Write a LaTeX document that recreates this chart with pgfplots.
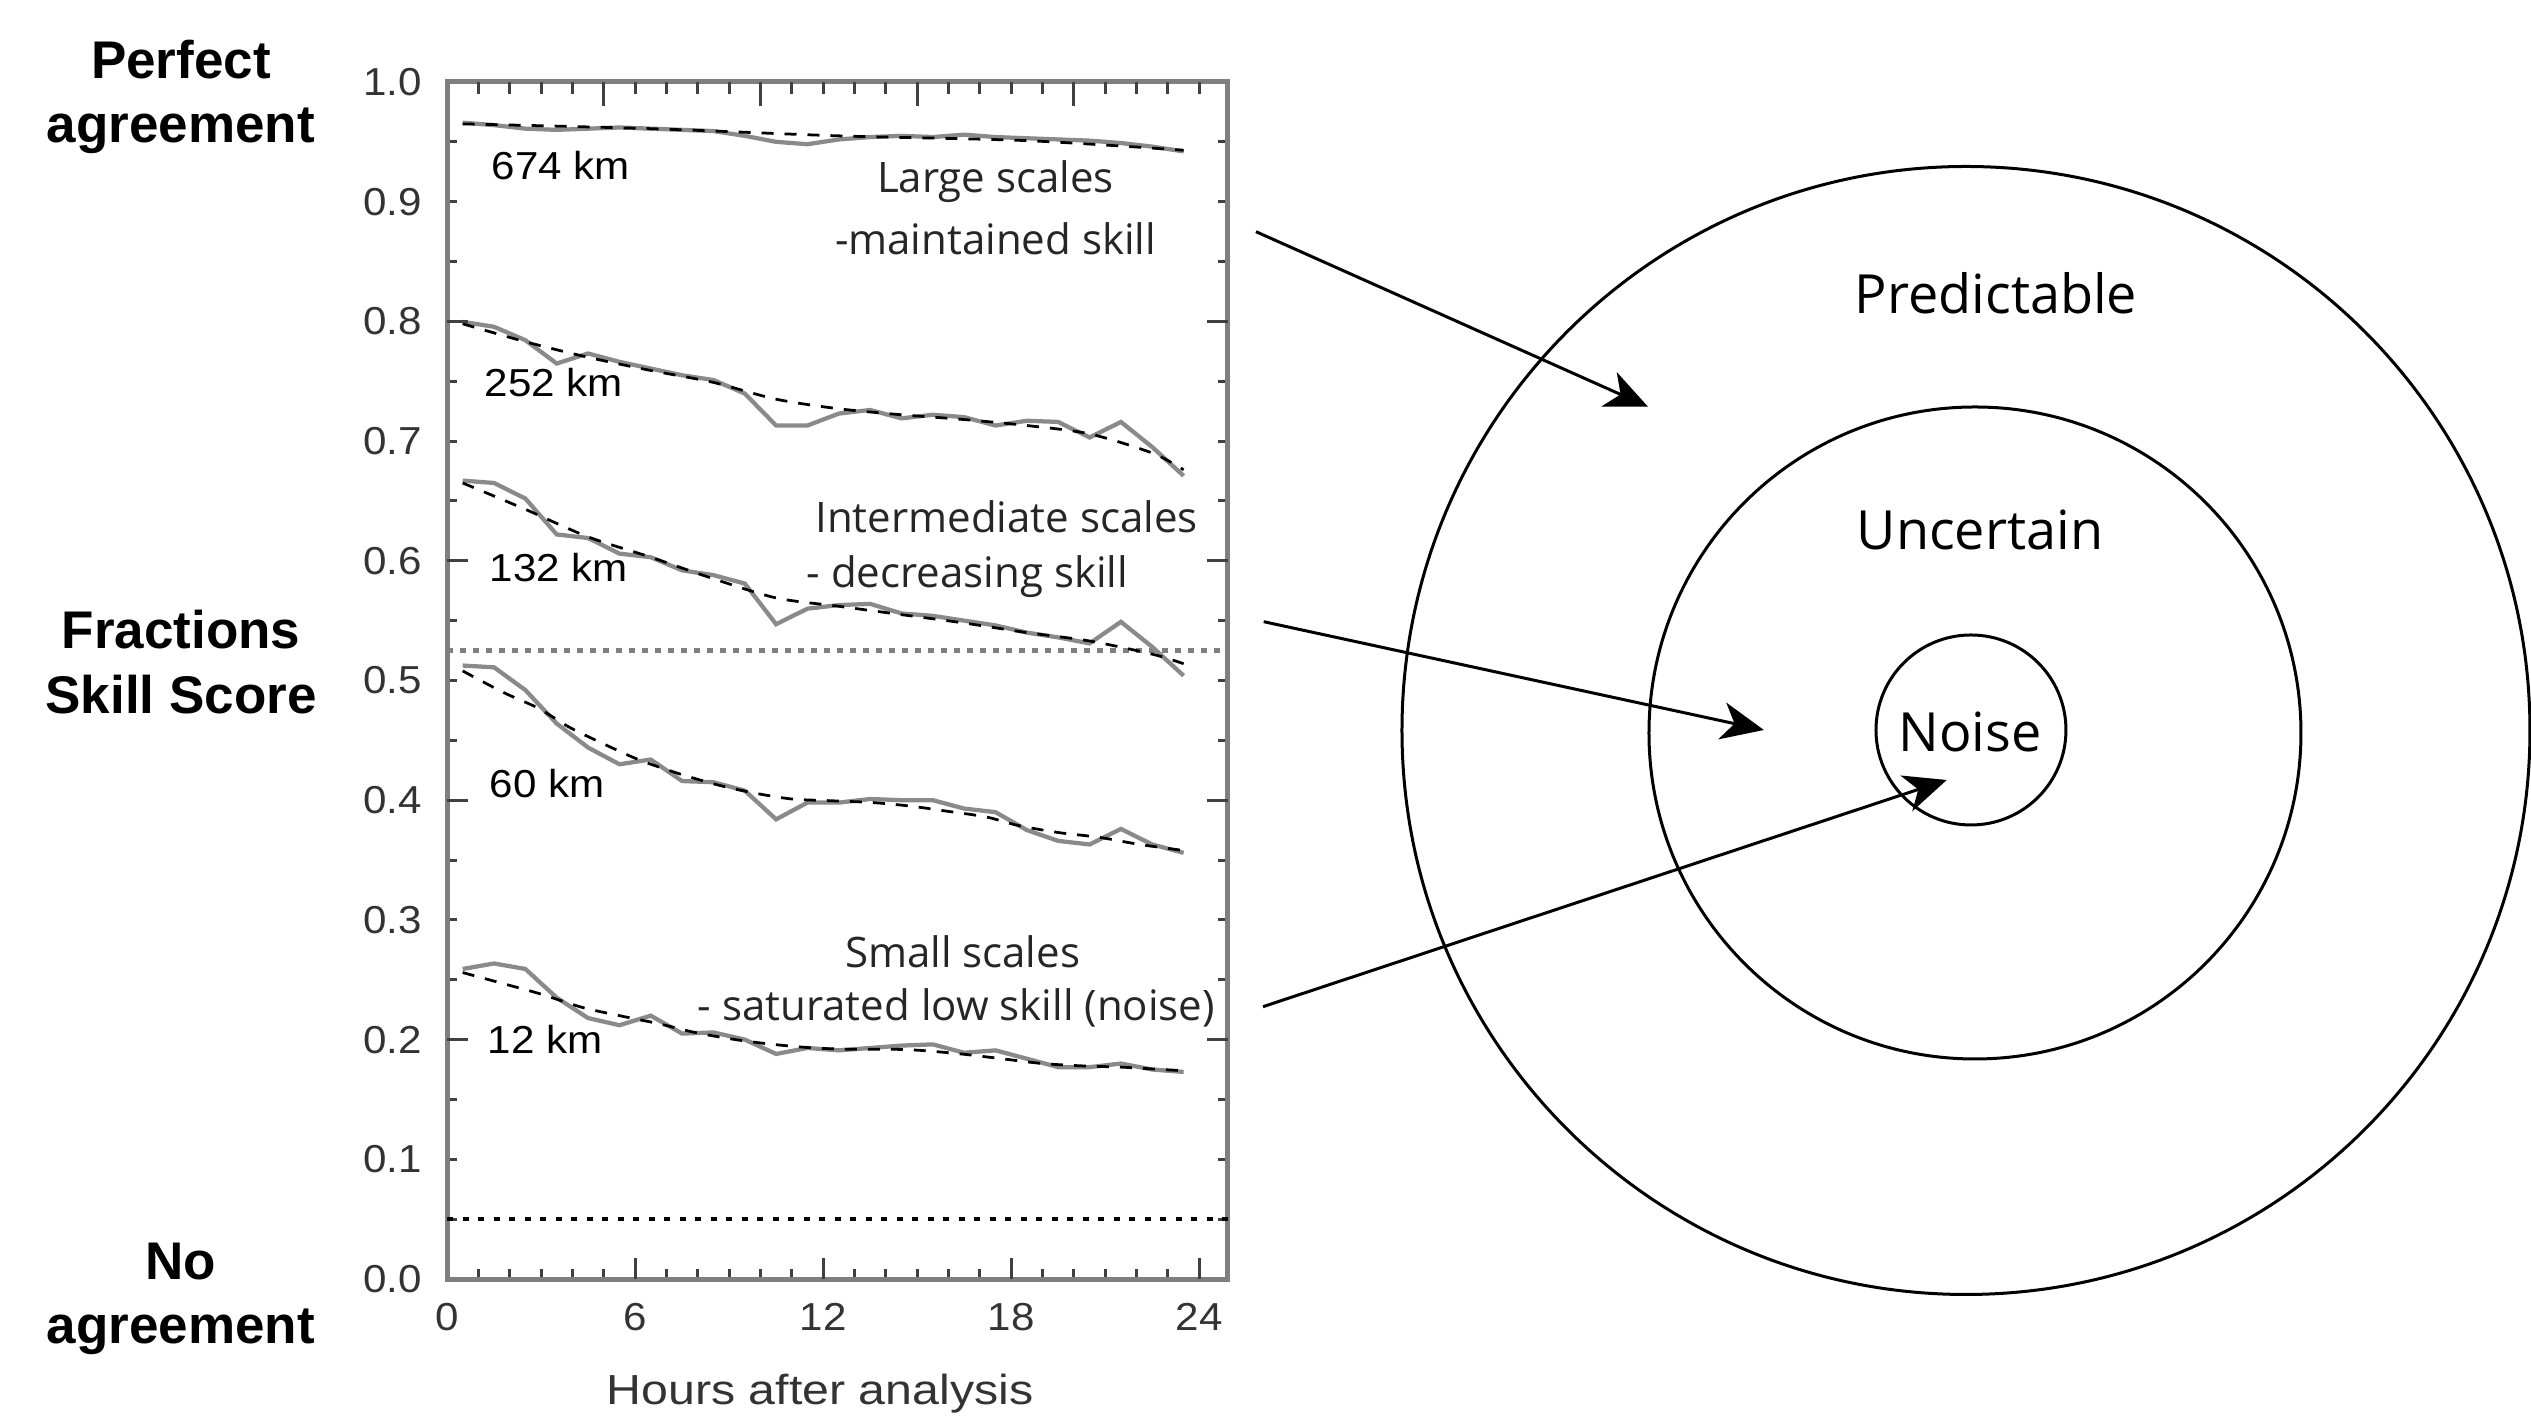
\documentclass[border=0pt]{standalone}
\usepackage{fontspec}
\setmainfont{Liberation Sans}
\newfontfamily\tickfont[FakeStretch=1.08]{Liberation Sans}
\newfontfamily\labfont[FakeStretch=1.15]{Liberation Sans}
\newfontfamily\annfont{Open Sans}
\usepackage{pgfplots}
\usepackage{pgfplotstable}
\pgfplotsset{compat=1.18}
\usetikzlibrary{arrows.meta}
\definecolor{framec}{HTML}{7F7F7F}
\definecolor{tickc}{HTML}{404040}
\definecolor{greyline}{HTML}{8A8A8A}
\definecolor{tlab}{HTML}{333333}

\pgfplotstableread{
h v
0.5 0.966
1.5 0.964
2.5 0.961
3.5 0.960
4.5 0.961
5.5 0.962
6.5 0.961
7.5 0.960
8.5 0.959
9.5 0.955
10.5 0.950
11.5 0.948
12.5 0.952
13.5 0.954
14.5 0.955
15.5 0.954
16.5 0.956
17.5 0.954
18.5 0.953
19.5 0.952
20.5 0.951
21.5 0.949
22.5 0.946
23.5 0.942
}\gA
\pgfplotstableread{
h v
0.5 0.965
6.5 0.961
12.5 0.955
18.5 0.951
23.5 0.943
}\fA
\pgfplotstableread{
h v
0.5 0.7996
1.5 0.7955
2.5 0.7843
3.5 0.7648
4.5 0.7732
5.5 0.7662
6.5 0.7606
7.5 0.755
8.5 0.751
9.5 0.7397
10.5 0.713
11.5 0.713
12.5 0.723
13.5 0.726
14.5 0.719
15.5 0.722
16.5 0.720
17.5 0.713
18.5 0.717
19.5 0.716
20.5 0.703
21.5 0.716
22.5 0.695
23.5 0.671
}\gB
\pgfplotstableread{
h v
0.5 0.798
2.5 0.783
4.5 0.770
6.5 0.759
8.5 0.749
10.5 0.735
12.5 0.727
14.5 0.722
16.5 0.718
18.5 0.713
20.5 0.706
22.5 0.690
23.5 0.676
}\fB
\pgfplotstableread{
h v
0.5 0.667
1.5 0.665
2.5 0.652
3.5 0.622
4.5 0.619
5.5 0.606
6.5 0.603
7.5 0.592
8.5 0.588
9.5 0.581
10.5 0.547
11.5 0.560
12.5 0.563
13.5 0.564
14.5 0.556
15.5 0.554
16.5 0.550
17.5 0.546
18.5 0.540
19.5 0.536
20.5 0.531
21.5 0.549
22.5 0.528
23.5 0.504
}\gC
\pgfplotstableread{
h v
0.5 0.665
2.5 0.643
4.5 0.620
6.5 0.603
8.5 0.585
10.5 0.569
12.5 0.562
14.5 0.555
16.5 0.548
18.5 0.540
20.5 0.533
22.5 0.522
23.5 0.514
}\fC
\pgfplotstableread{
h v
0.5 0.5125
1.5 0.511
2.5 0.492
3.5 0.464
4.5 0.444
5.5 0.430
6.5 0.434
7.5 0.416
8.5 0.415
9.5 0.408
10.5 0.384
11.5 0.398
12.5 0.398
13.5 0.401
14.5 0.400
15.5 0.400
16.5 0.393
17.5 0.390
18.5 0.375
19.5 0.366
20.5 0.363
21.5 0.376
22.5 0.363
23.5 0.356
}\gD
\pgfplotstableread{
h v
0.5 0.508
1.8 0.490
2.9 0.477
3.9 0.461
5.0 0.447
6.1 0.434
7.3 0.423
8.6 0.413
9.8 0.406
11.0 0.401
12.2 0.3996
13.6 0.398
14.8 0.395
15.9 0.391
17.2 0.386
18.2 0.379
19.5 0.373
20.8 0.369
22.1 0.363
23.5 0.358
}\fD
\pgfplotstableread{
h v
0.5 0.259
1.5 0.2636
2.5 0.259
3.5 0.235
4.5 0.218
5.5 0.212
6.5 0.220
7.5 0.205
8.5 0.206
9.5 0.200
10.5 0.188
11.5 0.193
12.5 0.191
13.5 0.193
14.5 0.195
15.5 0.196
16.5 0.189
17.5 0.191
18.5 0.184
19.5 0.177
20.5 0.177
21.5 0.180
22.5 0.175
23.5 0.173
}\gE
\pgfplotstableread{
h v
0.5 0.256
1.9 0.246
3.0 0.238
4.3 0.227
5.5 0.220
6.8 0.213
7.9 0.206
9.2 0.200
10.4 0.196
11.7 0.193
12.8 0.192
14.1 0.192
15.1 0.191
16.4 0.188
17.7 0.184
19.0 0.180
20.3 0.178
21.5 0.177
22.8 0.175
23.5 0.174
}\fE

\begin{document}
\begin{tikzpicture}
\path[use as bounding box] (0,0) rectangle (506.2pt,283.8pt);
\pgfplotsset{frameset/.style={at={(89.4pt,28pt)}, anchor=south west, scale only axis,
  width=156.1pt, height=239.4pt, xmin=0, xmax=24.9, ymin=0, ymax=1,
  tick style={draw=tickc, line width=0.6pt}},
  gl/.style={greyline, line width=0.85pt},
  fl/.style={black, line width=0.55pt, dash pattern=on 2.4pt off 2.2pt, smooth}}
\begin{axis}[frameset, clip=false,
  axis line style={draw=framec, line width=1pt},
  major tick length=2pt, minor tick length=2pt,
  xtick={0,6,12,18,24}, minor xtick={1,2,...,24}, xtick pos=bottom,
  ytick={0,0.1,0.2,0.3,0.4,0.5,0.6,0.7,0.8,0.9,1},
  yticklabels={0.0,0.1,0.2,0.3,0.4,0.5,0.6,0.7,0.8,0.9,1.0},
  minor ytick={0.05,0.15,0.25,0.35,0.45,0.55,0.65,0.75,0.85,0.95},
  /pgf/number format/assume math mode=true,
  ticklabel style={font=\tickfont\fontsize{7.8}{9}\selectfont, text=tlab, inner sep=0pt},
  xticklabel style={yshift=-4.6pt},
  yticklabel style={xshift=-4.8pt},
  xlabel={Hours after analysis},
  xlabel style={at={(axis description cs:0.478,-0.0785)}, anchor=north, inner sep=0pt,
    font=\labfont\fontsize{8.4}{10}\selectfont, text=tlab},
]
\addplot[framec, line width=1.1pt, dash pattern=on 1.1pt off 1.5pt] coordinates {(0,0.525) (24.9,0.525)};
\addplot[black, line width=0.7pt, dash pattern=on 1.2pt off 1.9pt] coordinates {(0,0.05) (24.9,0.05)};
\addplot[gl] table[x=h,y=v] {\gA};
\addplot[gl] table[x=h,y=v] {\gB};
\addplot[gl] table[x=h,y=v] {\gC};
\addplot[gl] table[x=h,y=v] {\gD};
\addplot[gl] table[x=h,y=v] {\gE};
\addplot[fl] table[x=h,y=v] {\fA};
\addplot[fl] table[x=h,y=v] {\fB};
\addplot[fl] table[x=h,y=v] {\fC};
\addplot[fl] table[x=h,y=v] {\fD};
\addplot[fl] table[x=h,y=v] {\fE};
\begin{scope}[every node/.style={font=\tickfont\fontsize{7.8}{9}\selectfont, text=black, anchor=west, inner sep=0pt}]
\node at (axis cs:1.4,0.930) {674 km};
\node at (axis cs:1.17,0.749) {252 km};
\node at (axis cs:1.33,0.594) {132 km};
\node at (axis cs:1.33,0.414) {60 km};
\node at (axis cs:1.27,0.200) {12 km};
\end{scope}
\begin{scope}[every node/.style={font=\annfont\fontsize{8.4}{10}\selectfont, text=black!85, inner sep=0pt}]
\node at (axis cs:17.5,0.917) {Large scales};
\node at (axis cs:17.5,0.869) {-maintained skill};
\node at (axis cs:17.85,0.637) {Intermediate scales};
\node at (axis cs:16.6,0.587) {- decreasing skill};
\node at (axis cs:16.45,0.273) {Small scales};
\node at (axis cs:16.25,0.2266) {- saturated low skill (noise)};
\end{scope}
\end{axis}
\begin{axis}[frameset, axis line style={draw=none},
  major tick length=4.2pt, xtick={6,12,18,24}, xtick pos=bottom,
  ytick={0.2,0.4,0.6,0.8}, ytick pos=both, minor tick num=0,
  xticklabels={}, yticklabels={}]
\end{axis}
\begin{axis}[frameset, axis line style={draw=none},
  major tick length=4.8pt, minor tick length=2.4pt,
  xtick={5,10,15,20}, minor xtick={1,2,...,24}, xtick pos=top,
  ytick=\empty, xticklabels={}]
\end{axis}
\begin{scope}[x=0.2pt, y=-0.2pt, shift={(0pt,283.8pt)}]
\begin{scope}[every node/.style={font=\bfseries\fontsize{10.6}{12}\selectfont, anchor=base, inner sep=0pt}]
\node at (181,79) {Perfect};
\node at (181,143) {agreement};
\node at (181,649) {Fractions};
\node at (181,714) {Skill Score};
\node at (181,1280) {No};
\node at (181,1344) {agreement};
\end{scope}
\draw[line width=0.6pt] (1966,730.5) circle[radius=564];
\draw[line width=0.6pt] (1975,733) circle[radius=326];
\draw[line width=0.6pt] (1971,730) circle[radius=95];
\begin{scope}[every node/.style={font=\annfont\fontsize{10.8}{13}\selectfont, anchor=base, inner sep=0pt}]
\node at (1996,314) {Predictable};
\node at (1980,550) {Uncertain};
\node at (1970,752) {Noise};
\end{scope}
\begin{scope}[line width=0.6pt, -{Stealth[length=8.5pt, width=7.5pt, inset=2.5pt]}]
\draw (1256,231.7) -- (1648,406.7);
\draw (1263.7,621.7) -- (1763.9,730);
\draw (1263,1006.7) -- (1946.8,780);
\end{scope}
\end{scope}
\end{tikzpicture}
\end{document}
